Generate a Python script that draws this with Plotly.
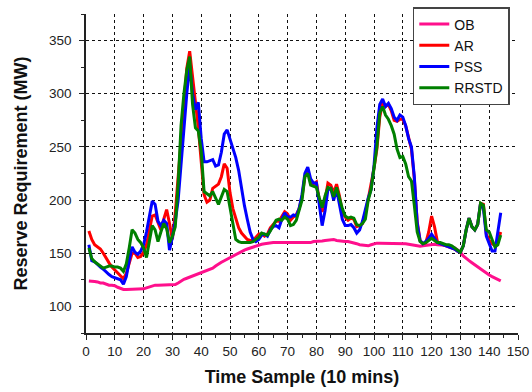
import plotly.graph_objects as go

x_samples = list(range(1, 145))

ob = [124, 124, 123.5, 123, 122, 122, 121, 120, 120, 119.5,
      118, 117, 116, 116, 116, 116, 116, 116, 116, 116.5,
      117.5, 118.5, 119.5, 120, 120, 120, 120, 120, 120, 120,
      120.5, 122, 124, 125.5, 126.5, 127.5, 128.5, 129.5, 130.5, 131.5,
      132.5, 133.5, 135, 136, 138, 140, 141.5, 143, 144.5, 146,
      147.5, 149, 150.5, 152, 153, 154, 155, 156, 157, 158,
      158.5, 159, 159.5, 160, 160, 160, 160, 160, 160, 160,
      160, 160, 160, 160, 160, 160, 160, 160, 161, 161,
      161, 161.5, 162, 162.5, 163, 163, 162, 161.5, 161, 161,
      161, 160.5, 160, 159, 158, 157.5, 157, 157, 158, 159,
      159.5, 159.5, 159.5, 159.5, 159.5, 159.5, 159.5, 159.5, 159.5, 159.5,
      159, 158.5, 158, 157.5, 157, 156.5, 157, 157.5, 158, 158.5,
      158.5, 158, 158, 158, 157.5, 157, 156, 155, 153, 151,
      147.5, 145, 143, 141, 139, 137, 135, 133, 131, 129.5,
      128, 126.5, 125, 124]

ar = [171, 163, 158, 156, 154, 150, 145, 141, 137, 134,
      131, 129, 126, 131, 140, 150, 150, 146, 147, 151,
      158, 172, 185, 186, 178, 172, 182, 191, 178, 163,
      188, 222, 262, 296, 324, 340, 318, 292, 268, 238,
      205, 198, 200, 211, 213, 215, 222, 234, 230, 207,
      192, 182, 174, 169, 166, 163, 162, 162, 165, 168,
      168, 166, 168, 174, 177, 180, 180, 184, 189, 187,
      181, 184, 186, 192, 203, 222, 228, 217, 215, 217,
      200, 189, 200, 216, 214, 207, 215, 204, 189, 184,
      181, 183, 182, 175, 176, 178, 188, 201, 214, 230,
      248, 278, 292, 288, 290, 284, 275, 274, 276, 276,
      270, 258, 248, 220, 180, 162, 159, 160, 170, 185,
      175, 161, 159, 158, 157, 156, 155, 154, 152, 151,
      157, 172, 183, 175, 172, 177, 197, 196, 168, 162,
      159, 157, 161, 170]

pss = [158, 143, 142, 139, 137, 135, 132, 130, 128, 127,
       126, 125, 121, 128, 143, 156, 151, 149, 152, 158,
       170, 185, 199, 196, 180, 176, 181, 178, 153, 165,
       180, 200, 235, 268, 300, 327, 300, 285, 292, 258,
       236, 236, 237, 238, 232, 233, 245, 262, 266, 257,
       248, 240, 228, 210, 195, 182, 170, 163, 161, 163,
       167, 168, 166, 172, 175, 176, 174, 182, 188, 184,
       184, 186, 185, 192, 205, 225, 231, 220, 216, 216,
       195, 176, 190, 210, 211, 200, 210, 196, 182, 176,
       176, 177, 174, 169, 172, 180, 192, 202, 210, 232,
       268, 290, 295, 288, 291, 286, 278, 275, 280, 278,
       270, 258, 250, 222, 178, 162, 159, 161, 164, 168,
       164, 160, 159, 158, 157, 156, 155, 154, 152, 151,
       157, 172, 183, 175, 172, 177, 197, 192, 166, 158,
       152, 152, 172, 188]

rrstd = [155, 145, 142, 140, 138, 136, 137, 138, 138, 137,
         137, 136, 133, 140, 155, 172, 169, 163, 160, 155,
         146, 162, 176, 172, 161, 170, 178, 173, 160, 166,
         175, 215, 270, 300, 322, 335, 290, 268, 265, 246,
         208, 206, 204, 208, 202, 196, 203, 210, 208, 192,
         175, 163, 161, 160, 160, 160, 160, 161, 163, 165,
         169, 168, 167, 171, 176, 181, 182, 181, 184, 182,
         176, 177, 181, 190, 200, 222, 225, 214, 213, 212,
         202, 193, 204, 212, 211, 203, 212, 202, 192, 185,
         183, 184, 183, 177, 176, 178, 182, 200, 210, 230,
         250, 282, 288, 280, 276, 270, 262, 248, 240, 241,
         234, 222, 218, 195, 170, 161, 159, 160, 162, 164,
         162, 160, 160, 159, 158, 158, 157, 155, 153, 151,
         157, 172, 183, 175, 172, 177, 197, 195, 172, 170,
         163, 156, 158, 167]

series_names = ["OB", "AR", "PSS", "RRSTD"]
series_values = [ob, ar, pss, rrstd]
series_colors = ["#FF0F8C", "#FF0000", "#0000FF", "#008000"]

x_range = [0, 150]
y_range = [75, 375]

fig = go.Figure()
for name, vals, col in zip(series_names, series_values, series_colors):
    fig.add_trace(go.Scatter(x=x_samples, y=vals, mode="lines", name=name,
                             line=dict(color=col, width=3)))

axis_font = dict(family="Liberation Sans, Arial", size=13.5, color="#222")
title_font = dict(family="Liberation Sans, Arial", size=18, color="#111")

top_m, bot_m = 7, 59
paper_h = 392 - top_m - bot_m
y_dom_top = 1 - 7 / paper_h

fig.update_layout(
    width=532, height=392,
    margin=dict(l=86, r=14, t=top_m, b=bot_m, autoexpand=False),
    paper_bgcolor="white", plot_bgcolor="white",
    showlegend=True,
    legend=dict(x=0.981, y=1.0, xanchor="right", yanchor="top",
                bgcolor="white", bordercolor="#444", borderwidth=1.5,
                font=dict(family="Liberation Sans, Arial", size=14, color="#111"),
                tracegroupgap=0, itemwidth=30),
)
# hide the grid line that falls on the right edge of the plot area
fig.add_shape(type="line", xref="x", yref="y", x0=x_range[1], x1=x_range[1],
              y0=y_range[0] + 1, y1=y_range[1], line=dict(color="white", width=2),
              layer="above")
fig.update_xaxes(
    range=x_range, tick0=0, dtick=10, showline=True, linecolor="#222", linewidth=1.5,
    ticks="outside", ticklen=5, tickwidth=1.2, tickcolor="#222",
    minor=dict(dtick=5, ticks="outside", ticklen=3, tickwidth=1, tickcolor="#222", showgrid=False),
    showgrid=True, gridcolor="#111", griddash="dot", gridwidth=1,
    zeroline=False, tickfont=axis_font,
    title=dict(text="<b>Time Sample (10 mins)</b>", font=title_font, standoff=12),
)
fig.update_yaxes(
    domain=[0, y_dom_top],
    range=y_range, tick0=0, dtick=50, showline=True, linecolor="#222", linewidth=1.5,
    ticks="outside", ticklen=5, tickwidth=1.2, tickcolor="#222",
    minor=dict(dtick=25, ticks="outside", ticklen=3, tickwidth=1, tickcolor="#222", showgrid=False),
    showgrid=True, gridcolor="#111", griddash="dot", gridwidth=1,
    zeroline=False, tickfont=axis_font, ticklabelstandoff=5,
    title=dict(text="<b>Reserve Requirement (MW)</b>", font=title_font, standoff=17),
)

fig.write_html("out.html", config={"displayModeBar": False},
               post_script="document.body.style.margin='0';")
